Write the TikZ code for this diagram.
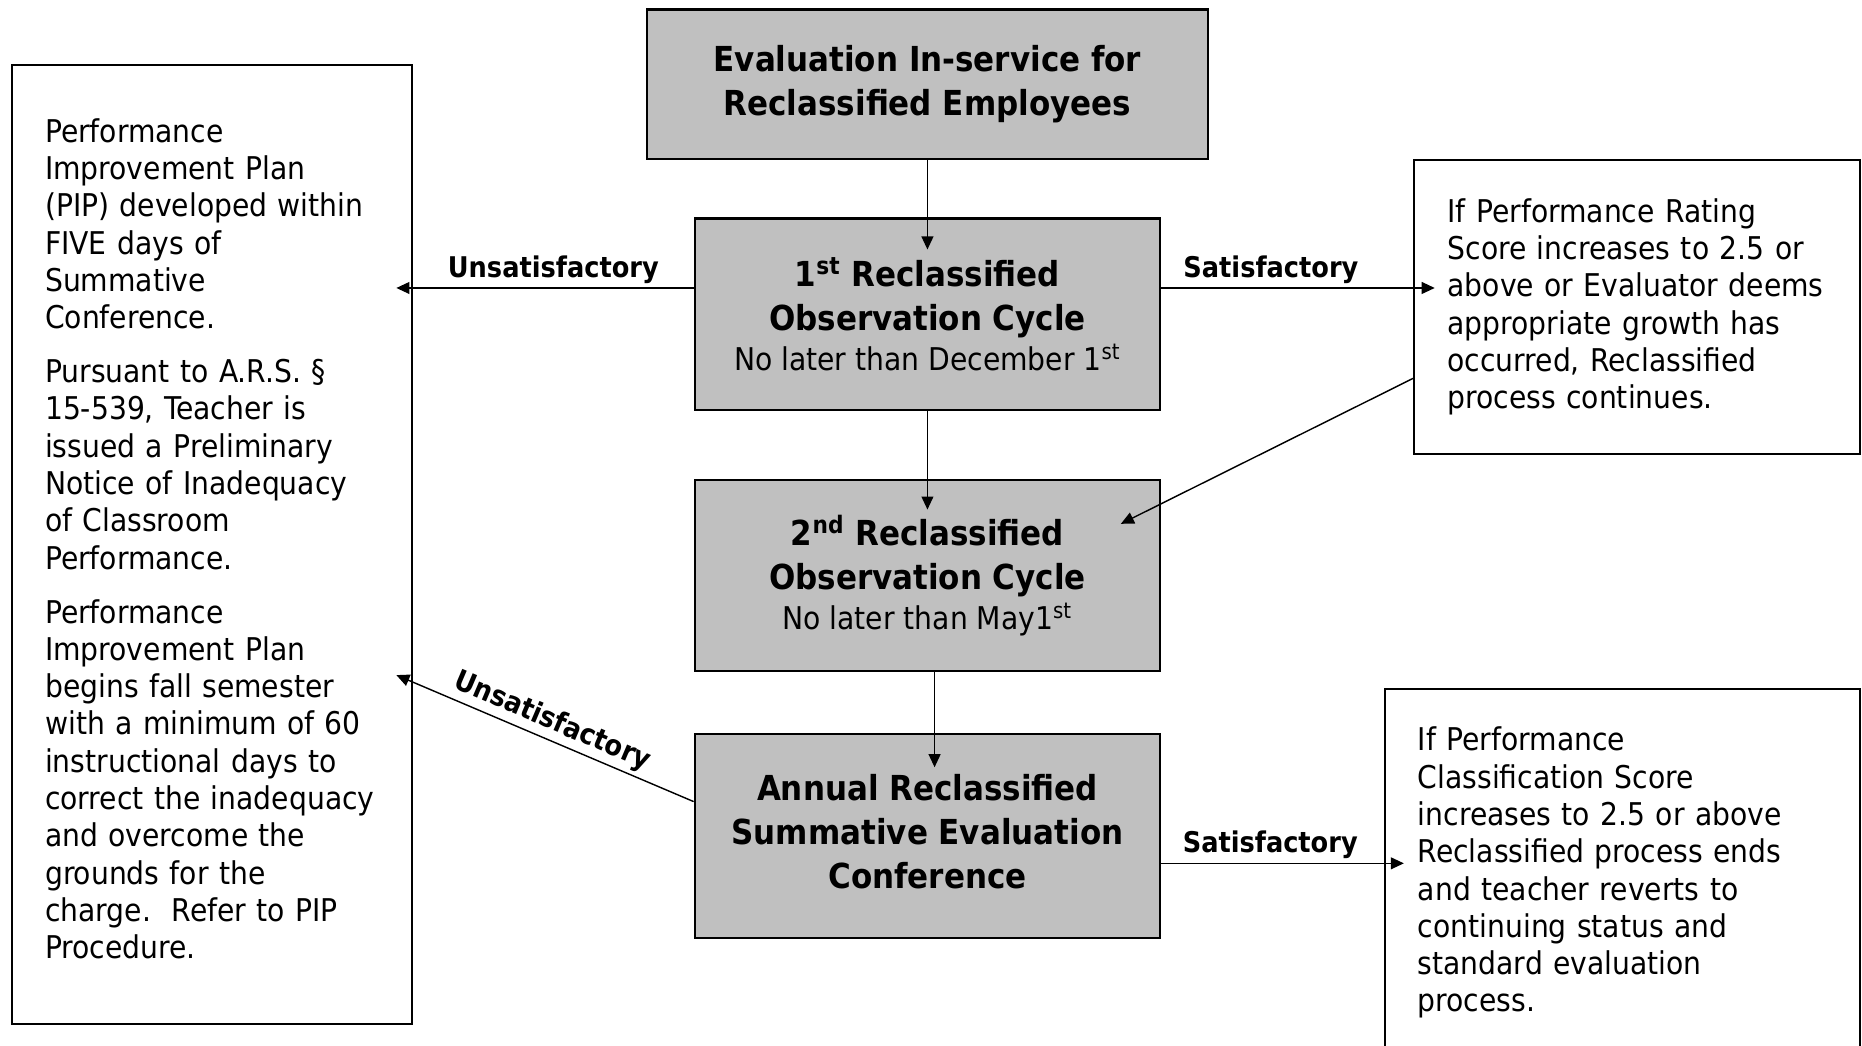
\documentclass[tikz,border=0pt]{standalone}
\usepackage{fontspec}
\setmainfont{DejaVu Sans Condensed}
\usetikzlibrary{arrows.meta}
\definecolor{stagegray}{HTML}{C0C0C0}
\newcommand{\bodysize}{\fontsize{13.2}{15.7}\selectfont}
\newcommand{\headsize}{\fontsize{14.5}{18.5}\selectfont}

\begin{document}
\begin{tikzpicture}[x=0.5pt, y=-0.5pt,
    stage/.style={draw, line width=0.9pt, fill=stagegray, align=center,
                  minimum width=196pt, minimum height=80.5pt, font=\headsize\bfseries},
    note/.style={draw, line width=0.8pt, align=left, inner xsep=14pt, font=\bodysize},
    arr/.style={-{Triangle[length=5.5pt, width=5pt]}, line width=0.6pt},
    lbl/.style={font=\fontsize{12}{14}\selectfont\bfseries, inner sep=1.5pt},
  ]
    \useasboundingbox (0,0) rectangle (1568,880);
    \node[stage, minimum width=236pt, minimum height=63pt] (top) at (781,71)
      {Evaluation In-service for\\Reclassified Employees};
    \node[stage] (box1) at (781,264.5)
      {1\textsuperscript{st} Reclassified\\Observation Cycle\\[-2pt]
       {\bodysize\mdseries No later than December 1\textsuperscript{st}}};
    \node[stage] (box2) at (781,484.5)
      {2\textsuperscript{nd} Reclassified\\Observation Cycle\\[-2pt]
       {\bodysize\mdseries No later than May1\textsuperscript{st}}};
    \node[stage, minimum height=86pt] (box3) at (781,704)
      {Annual Reclassified\\Summative Evaluation\\Conference\rule[-4pt]{0pt}{4pt}};
    \node[note, text width=140.5pt, minimum height=403.5pt] (pip) at (178.5,458.5)
      {Performance\\
       Improvement Plan\\
       (PIP) developed within\\
       FIVE days of\\
       Summative\\
       Conference.\\[7pt]
       Pursuant to A.R.S. §\\
       15-539, Teacher is\\
       issued a Preliminary\\
       Notice of Inadequacy\\
       of Classroom\\
       Performance.\\[7pt]
       Performance\\
       Improvement Plan\\
       begins fall semester\\
       with a minimum of 60\\
       instructional days to\\
       correct the inadequacy\\
       and overcome the\\
       grounds for the\\
       charge.\ \ Refer to PIP\\
       Procedure.\rule[-5pt]{0pt}{5pt}};
    \node[note, text width=159.5pt, minimum height=123.5pt] (rt) at (1378.5,258.5)
      {If Performance Rating\\
       Score increases to 2.5 or\\
       above or Evaluator deems\\
       appropriate growth has\\
       occurred, Reclassified\\
       process continues.};
    \node[note, text width=172pt, minimum height=155pt] (rb) at (1366,735)
      {If Performance\\
       Classification Score\\
       increases to 2.5 or above\\
       Reclassified process ends\\
       and teacher reverts to\\
       continuing status and\\
       standard evaluation\\
       process.};
    \draw[arr, shorten >=-13.5pt] (top) -- (box1);
    \draw[arr, shorten >=-13pt] (box1) -- (box2);
    \draw[arr, shorten >=-14.5pt] ([xshift=3pt]box2.south) -- ([xshift=3pt]box3.north);
    \draw[arr, shorten >=-7pt] ([yshift=11pt]box1.west) -- ([yshift=11pt]box1.west -| pip.east)
      node[lbl, midway, above] {Unsatisfactory};
    \draw[arr, shorten >=-9pt] ([yshift=11pt]box1.east) -- ([yshift=11pt]box1.east -| rt.west)
      node[lbl, pos=0.435, above] {Satisfactory};
    \draw[arr] ([yshift=-30pt]rt.west) -- ([xshift=-17pt, yshift=-19pt]box2.north east);
    \draw[arr] ([yshift=14.5pt]box3.west) -- ([xshift=-7pt, yshift=-55pt]pip.east)
      node[lbl, midway, sloped, above] {Unsatisfactory};
    \draw[arr, shorten >=-8.5pt] ([yshift=-11.5pt]box3.east) -- ([yshift=-11.5pt]box3.east -| rb.west)
      node[lbl, pos=0.49, above] {Satisfactory};
\end{tikzpicture}
\end{document}
